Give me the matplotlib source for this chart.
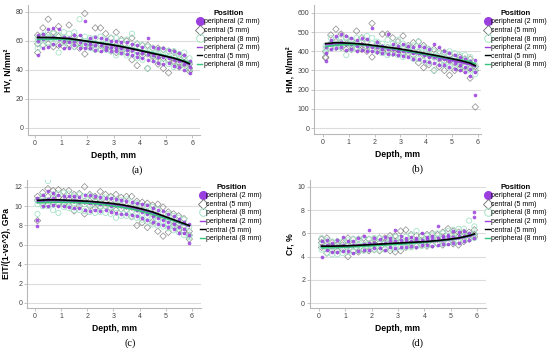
import numpy as np
import matplotlib.pyplot as plt
from matplotlib.lines import Line2D

plt.rcParams['font.family'] = ['Liberation Sans', 'DejaVu Sans']

# =====================================================
# DATA
# =====================================================

depth = [0.1, 0.3, 0.5, 0.7, 0.9, 1.1, 1.3, 1.5, 1.7, 1.9,
         2.1, 2.3, 2.5, 2.7, 2.9, 3.1, 3.3, 3.5, 3.7, 3.9,
         4.1, 4.3, 4.5, 4.7, 4.9, 5.1, 5.3, 5.5, 5.7, 5.9]

fit_depth = [0.1, 0.5, 0.9, 1.3, 1.7, 2.1, 2.5, 2.9, 3.3, 3.7, 4.1, 4.5, 4.9, 5.3, 5.7, 5.9]

positions = ["peripheral (2 mm)", "central (5 mm)", "peripheral (8 mm)"]

# ---- (a) HV ----
hv_p2_hi = [64, 65, 68, 69, 68, 63, 62, 64, 64, 74, 62, 63, 62, 61, 60, 60, 59, 59, 58, 57, 56, 62, 56, 55, 55, 54, 53, 52, 50, 46]
hv_p2_mid = [60, 61, 62, 63, 61, 60, 59, 60, 59, 58, 58, 57, 57, 56, 56, 55, 55, 54, 54, 52, 52, 51, 50, 49, 49, 48, 47, 46, 44, 42]
hv_p2_lo = [50, 55, 56, 58, 57, 55, 55, 57, 55, 55, 55, 54, 53, 54, 53, 53, 52, 51, 50, 49, 48, 47, 46, 45, 44, 45, 43, 42, 40, 38]
hv_c5_hi = [64, 69, 75, 66, 70, 62, 71, 63, 62, 79, 60, 69, 69, 65, 62, 66, 61, 60, 62, 58, 57, 57, 55, 55, 54, 53, 52, 50, 49, 44]
hv_c5_mid = [58, 63, 64, 62, 63, 60, 61, 60, 59, 57, 58, 58, 57, 56, 56, 57, 56, 55, 54, 53, 52, 51, 50, 49, 48, 47, 46, 45, 44, 41]
hv_c5_lo = [52, 57, 58, 56, 57, 56, 58, 56, 55, 51, 56, 54, 54, 55, 53, 52, 54, 52, 47, 43, 50, 41, 49, 44, 41, 38, 45, 42, 45, 39]
hv_p8_hi = [62, 64, 66, 65, 64, 66, 65, 66, 75, 63, 62, 62, 63, 61, 62, 62, 60, 61, 65, 58, 57, 56, 55, 54, 54, 53, 53, 51, 52, 48]
hv_p8_mid = [60, 61, 62, 62, 61, 62, 60, 61, 62, 60, 59, 58, 58, 58, 57, 56, 55, 55, 56, 53, 52, 52, 51, 51, 50, 49, 49, 48, 47, 45]
hv_p8_lo = [55, 57, 59, 58, 52, 59, 57, 56, 58, 57, 55, 54, 54, 54, 53, 50, 52, 50, 51, 48, 47, 41, 47, 46, 45, 44, 42, 44, 43, 40]
hv_fit_p2 = [61.5, 61.6, 61.5, 61.2, 60.4, 59.4, 58.4, 57.2, 55.9, 54.5, 53.0, 51.4, 49.8, 48.0, 45.5, 43.5]
hv_fit_c5 = [62.5, 62.4, 62.1, 61.6, 60.6, 59.5, 58.5, 57.4, 56.1, 54.6, 53.0, 51.4, 49.8, 48.1, 45.8, 44.2]
hv_fit_p8 = [61.0, 61.2, 61.2, 61.0, 60.4, 59.6, 58.7, 57.6, 56.3, 54.8, 53.3, 51.8, 50.2, 48.4, 46.2, 45.0]

# ---- (b) HM ----
hm_p2_hi = [420, 460, 480, 490, 480, 470, 460, 470, 465, 520, 450, 430, 490, 440, 430, 440, 430, 420, 425, 420, 410, 440, 420, 400, 390, 380, 370, 360, 350, 355]
hm_p2_mid = [390, 440, 440, 450, 440, 440, 430, 440, 430, 420, 420, 410, 410, 410, 400, 400, 400, 390, 390, 380, 370, 370, 360, 360, 350, 340, 330, 320, 310, 290]
hm_p2_lo = [350, 410, 415, 420, 405, 410, 400, 405, 400, 400, 395, 390, 385, 385, 380, 375, 370, 360, 360, 350, 345, 340, 330, 330, 320, 310, 300, 290, 270, 170]
hm_c5_hi = [400, 485, 515, 490, 470, 455, 505, 470, 450, 545, 440, 490, 490, 470, 450, 480, 430, 445, 450, 430, 410, 410, 400, 395, 380, 370, 370, 360, 360, 320]
hm_c5_mid = [370, 440, 450, 445, 440, 430, 440, 430, 420, 410, 420, 420, 420, 410, 410, 420, 410, 400, 395, 380, 380, 370, 360, 350, 350, 340, 330, 320, 310, 300]
hm_c5_lo = [365, 420, 420, 420, 410, 410, 415, 410, 400, 370, 400, 400, 400, 390, 390, 390, 390, 380, 340, 315, 330, 300, 320, 300, 275, 300, 310, 300, 260, 110]
hm_p8_hi = [430, 470, 460, 470, 470, 460, 470, 470, 480, 470, 450, 440, 460, 440, 460, 440, 420, 430, 450, 420, 410, 400, 390, 390, 400, 390, 380, 380, 370, 330]
hm_p8_mid = [415, 440, 440, 440, 445, 440, 440, 445, 440, 440, 430, 420, 420, 420, 420, 410, 400, 400, 400, 390, 380, 370, 370, 370, 360, 360, 350, 350, 340, 310]
hm_p8_lo = [395, 420, 420, 420, 380, 410, 420, 420, 420, 410, 400, 390, 380, 390, 380, 370, 380, 360, 360, 350, 340, 300, 340, 330, 320, 330, 320, 320, 300, 280]
hm_fit_p2 = [435, 440, 440, 437, 432, 425, 417, 408, 398, 388, 377, 366, 355, 343, 330, 320]
hm_fit_c5 = [440, 445, 443, 440, 435, 428, 421, 414, 405, 395, 385, 375, 364, 352, 338, 325]
hm_fit_p8 = [425, 432, 435, 435, 432, 425, 418, 410, 400, 390, 380, 370, 362, 355, 345, 335]

# ---- (c) EIT/(1-vs^2) ----
eit_p2_hi = [10.8, 11.2, 11.6, 11.4, 11.2, 11.0, 11.0, 11.0, 10.9, 11.2, 11.1, 11.0, 10.9, 10.8, 10.8, 10.7, 10.6, 10.5, 10.4, 10.3, 10.2, 10.1, 9.8, 9.6, 9.5, 9.2, 9.0, 8.7, 8.4, 8.2]
eit_p2_mid = [8.6, 10.6, 10.7, 10.8, 10.6, 10.6, 10.5, 10.6, 10.4, 10.4, 10.3, 10.3, 10.2, 10.2, 10.0, 10.1, 10.0, 9.9, 9.8, 9.6, 9.4, 9.2, 9.0, 8.8, 8.6, 8.4, 8.2, 7.8, 7.6, 7.0]
eit_p2_lo = [7.9, 10.0, 10.0, 10.1, 10.0, 10.0, 9.9, 9.8, 9.8, 9.6, 9.5, 9.6, 9.5, 9.6, 9.4, 9.3, 9.2, 9.2, 9.1, 9.0, 8.8, 8.6, 8.4, 8.2, 8.1, 7.8, 7.6, 7.2, 7.2, 6.2]
eit_c5_hi = [11.0, 11.4, 11.8, 11.6, 11.7, 11.5, 11.6, 11.2, 11.3, 12.0, 11.2, 11.0, 11.5, 11.2, 11.0, 11.2, 10.9, 11.0, 11.0, 10.5, 10.4, 10.3, 10.1, 10.2, 9.9, 9.4, 9.2, 9.0, 8.7, 7.4]
eit_c5_mid = [10.6, 10.8, 11.0, 10.9, 10.9, 10.8, 10.7, 10.6, 10.5, 10.5, 10.5, 10.5, 10.4, 10.4, 10.3, 10.2, 10.1, 10.0, 9.9, 9.7, 9.6, 9.4, 9.2, 9.0, 8.8, 8.6, 8.4, 8.2, 8.0, 7.0]
eit_c5_lo = [8.5, 10.3, 10.2, 10.4, 10.2, 10.2, 10.1, 9.5, 10.0, 9.2, 10.0, 9.8, 9.9, 10.0, 9.8, 9.6, 9.7, 9.6, 8.9, 8.0, 8.3, 7.8, 8.4, 7.4, 6.9, 7.3, 8.0, 7.6, 7.4, 6.6]
eit_p8_hi = [10.6, 11.0, 12.6, 11.2, 11.3, 11.4, 11.3, 11.0, 11.2, 11.0, 11.1, 10.9, 10.8, 10.9, 10.9, 10.6, 10.6, 10.7, 10.4, 10.3, 10.0, 10.0, 9.9, 9.6, 9.2, 9.2, 9.0, 8.8, 8.6, 7.8]
eit_p8_mid = [10.2, 10.5, 10.6, 10.4, 10.4, 10.5, 10.4, 10.3, 10.3, 10.2, 10.1, 10.1, 10.0, 10.0, 9.9, 9.8, 9.7, 9.6, 9.5, 9.4, 9.2, 9.0, 8.8, 8.6, 8.4, 8.2, 8.1, 7.9, 7.8, 7.0]
eit_p8_lo = [9.2, 10.0, 10.0, 9.6, 9.3, 9.9, 9.8, 9.6, 9.6, 9.5, 9.4, 9.3, 9.4, 9.3, 9.2, 8.8, 9.0, 9.0, 8.9, 8.8, 8.6, 8.4, 8.1, 8.0, 7.9, 7.7, 7.5, 7.3, 7.0, 6.8]
eit_fit_p2 = [10.5, 10.55, 10.55, 10.5, 10.45, 10.4, 10.3, 10.2, 10.05, 9.85, 9.6, 9.3, 8.9, 8.5, 8.1, 7.9]
eit_fit_c5 = [10.6, 10.65, 10.65, 10.6, 10.55, 10.5, 10.4, 10.3, 10.15, 9.95, 9.7, 9.4, 9.0, 8.6, 8.2, 8.0]
eit_fit_p8 = [10.35, 10.4, 10.4, 10.4, 10.35, 10.3, 10.2, 10.05, 9.9, 9.7, 9.45, 9.15, 8.8, 8.5, 8.15, 8.0]

# ---- (d) Cr ----
cr_p2_hi = [5.3, 5.4, 5.2, 5.4, 5.7, 5.3, 5.3, 5.6, 5.8, 6.3, 5.6, 5.5, 5.7, 5.6, 6.3, 5.8, 5.6, 5.7, 5.6, 6.0, 5.7, 5.8, 6.6, 5.8, 5.9, 6.2, 6.1, 6.2, 6.0, 7.8]
cr_p2_mid = [4.9, 5.0, 4.9, 4.9, 5.0, 4.9, 5.0, 5.0, 5.1, 5.2, 5.2, 5.1, 5.2, 5.3, 5.3, 5.4, 5.3, 5.3, 5.4, 5.4, 5.5, 5.5, 5.6, 5.6, 5.7, 5.7, 5.8, 5.8, 5.9, 7.4]
cr_p2_lo = [4.0, 4.6, 4.4, 4.4, 4.5, 4.5, 4.3, 4.5, 4.6, 4.6, 4.7, 4.7, 4.6, 4.8, 4.7, 4.8, 4.8, 4.9, 4.8, 5.0, 5.0, 4.9, 5.0, 5.1, 5.1, 5.2, 5.2, 5.3, 5.4, 5.6]
cr_c5_hi = [5.5, 5.6, 5.2, 5.3, 5.2, 5.6, 5.5, 5.5, 5.6, 5.5, 5.5, 5.6, 5.6, 5.8, 5.8, 6.2, 6.3, 5.9, 5.8, 5.8, 5.9, 6.0, 5.9, 6.1, 6.4, 6.2, 6.1, 6.1, 6.1, 6.3]
cr_c5_mid = [5.2, 5.0, 4.9, 5.0, 5.0, 5.0, 5.1, 5.0, 5.0, 5.1, 5.1, 5.2, 5.2, 5.2, 5.3, 5.3, 5.3, 5.4, 5.4, 5.4, 5.4, 5.5, 5.5, 5.6, 5.6, 5.6, 5.7, 5.8, 5.8, 5.9]
cr_c5_lo = [4.8, 4.3, 4.6, 4.5, 4.6, 4.0, 4.5, 4.4, 4.6, 4.5, 4.6, 4.5, 4.7, 4.5, 4.4, 4.5, 4.8, 4.9, 4.9, 5.0, 4.9, 5.0, 5.1, 5.0, 5.2, 5.1, 5.0, 5.3, 5.5, 5.7]
cr_p8_hi = [5.6, 5.4, 5.3, 5.3, 5.3, 5.4, 5.5, 5.5, 5.4, 5.5, 5.6, 5.6, 5.5, 5.6, 5.7, 5.6, 5.7, 5.9, 6.2, 5.7, 5.8, 5.9, 6.0, 6.0, 6.2, 6.3, 6.4, 6.4, 7.1, 6.6]
cr_p8_mid = [5.0, 4.8, 4.8, 4.8, 4.8, 4.9, 4.9, 5.0, 5.0, 5.0, 5.0, 5.1, 5.1, 5.2, 5.2, 5.2, 5.3, 5.3, 5.4, 5.4, 5.4, 5.5, 5.5, 5.6, 5.6, 5.7, 5.8, 5.8, 5.9, 6.0]
cr_p8_lo = [4.6, 4.3, 4.2, 4.2, 4.3, 4.4, 4.4, 4.5, 4.5, 4.6, 4.6, 4.6, 4.6, 4.7, 4.7, 4.8, 4.8, 4.8, 4.9, 4.9, 5.0, 5.0, 5.1, 5.1, 5.2, 5.2, 5.3, 5.4, 5.5, 5.6]
cr_fit_p2 = [4.85, 4.85, 4.88, 4.9, 4.95, 5.0, 5.05, 5.1, 5.15, 5.2, 5.25, 5.32, 5.42, 5.55, 5.75, 5.9]
cr_fit_c5 = [4.9, 4.9, 4.92, 4.95, 5.0, 5.05, 5.1, 5.15, 5.2, 5.25, 5.3, 5.38, 5.48, 5.6, 5.8, 5.95]
cr_fit_p8 = [4.75, 4.78, 4.8, 4.85, 4.9, 4.95, 5.0, 5.05, 5.1, 5.18, 5.25, 5.35, 5.45, 5.6, 5.8, 5.95]

# =====================================================
# STYLE
# =====================================================

PURPLE = '#9a3ee0'
GREY = '#6e6e6e'
MINT = '#a6e3c8'
GREEN = '#35c47a'
GRID = '#dcdcdc'
AXIS = '#b8b8b8'


def draw_panel(ax, p2, c5, p8, fits, ylim, yticks, ylabel, letter, label_x, legend_xy):

    for y in yticks:
        ax.axhline(y, color=GRID, lw=0.8, zorder=0)

    for vals in c5:
        ax.scatter(depth, vals, s=11, marker='D', facecolors='none',
                   edgecolors=GREY, linewidths=0.5, alpha=0.8, zorder=2)
    for vals in p8:
        ax.scatter(depth, vals, s=14, marker='o', facecolors='none',
                   edgecolors=MINT, linewidths=0.6, zorder=2)
    for vals in p2:
        ax.scatter(depth, vals, s=7, marker='o', color=PURPLE,
                   alpha=0.85, linewidths=0, zorder=3)

    ax.plot(fit_depth, fits[0], color=PURPLE, lw=1.2, zorder=4)
    ax.plot(fit_depth, fits[2], color=GREEN, lw=1.2, zorder=5)
    ax.plot(fit_depth, fits[1], color='black', lw=1.2, zorder=6)

    ax.set_ylim(*ylim)
    ax.set_yticks(yticks)
    ax.set_xticks([0, 1, 2, 3, 4, 5, 6])

    for s in ['top', 'right']:
        ax.spines[s].set_visible(False)
    for s in ['left', 'bottom']:
        ax.spines[s].set_color(AXIS)
        ax.spines[s].set_linewidth(0.8)
    ax.tick_params(labelsize=5, colors='#444444', length=2, width=0.6,
                   pad=1.5, color=AXIS)

    ax.set_xlabel("Depth, mm", fontsize=6.2, fontweight='bold', labelpad=3)
    ax.set_ylabel(ylabel, fontsize=6.2, fontweight='bold', labelpad=2)

    fig.text(label_x, ax.get_position().y0 - 0.1, letter, ha='center',
             va='center', fontsize=7.5, family='Liberation Serif')

    handles = [
        Line2D([], [], ls='', marker='o', markersize=5.5, color=PURPLE),
        Line2D([], [], ls='', marker='D', markersize=5, mfc='none',
               mec=GREY, mew=0.6),
        Line2D([], [], ls='', marker='o', markersize=5.5, mfc='none',
               mec=MINT, mew=0.7),
        Line2D([], [], color=PURPLE, lw=1),
        Line2D([], [], color='black', lw=1),
        Line2D([], [], color=GREEN, lw=1),
    ]
    leg = ax.legend(handles, positions + positions, title="Position",
                    loc='upper left', bbox_to_anchor=legend_xy,
                    bbox_transform=fig.transFigure, frameon=False,
                    fontsize=5, handlelength=0.7, handletextpad=0.2,
                    labelspacing=0.22, borderpad=0, borderaxespad=0)
    leg.get_title().set_fontsize(5.5)
    leg.get_title().set_fontweight('bold')
    leg._legend_box.align = 'center'


# =====================================================
# PLOT
# =====================================================

fig = plt.figure(figsize=(5.5, 3.55), dpi=100)

ax_a = fig.add_axes([0.0509, 0.6197, 0.3127, 0.3669])
ax_b = fig.add_axes([0.5709, 0.6225, 0.3036, 0.3634])
ax_c = fig.add_axes([0.0491, 0.1324, 0.3164, 0.3606])
ax_d = fig.add_axes([0.5636, 0.1324, 0.3200, 0.3606])

draw_panel(ax_a, [hv_p2_hi, hv_p2_mid, hv_p2_lo],
           [hv_c5_hi, hv_c5_mid, hv_c5_lo],
           [hv_p8_hi, hv_p8_mid, hv_p8_lo],
           [hv_fit_p2, hv_fit_c5, hv_fit_p8],
           (-5, 85), [0, 20, 40, 60, 80], "HV, N/mm²", "(a)", 0.249,
           (0.359, 0.972))
ax_a.set_xlim(-0.27, 6.3)

draw_panel(ax_b, [hm_p2_hi, hm_p2_mid, hm_p2_lo],
           [hm_c5_hi, hm_c5_mid, hm_c5_lo],
           [hm_p8_hi, hm_p8_mid, hm_p8_lo],
           [hm_fit_p2, hm_fit_c5, hm_fit_p8],
           (-31, 641), [0, 100, 200, 300, 400, 500, 600], "HM, N/mm²", "(b)",
           0.76, (0.882, 0.972))
ax_b.set_xlim(-0.35, 6.12)

draw_panel(ax_c, [eit_p2_hi, eit_p2_mid, eit_p2_lo],
           [eit_c5_hi, eit_c5_mid, eit_c5_lo],
           [eit_p8_hi, eit_p8_mid, eit_p8_lo],
           [eit_fit_p2, eit_fit_c5, eit_fit_p8],
           (-0.52, 12.7), [0, 2, 4, 6, 8, 10, 12], "EIT/(1-vs^2), GPa", "(c)",
           0.237, (0.364, 0.482))
ax_c.set_xlim(-0.3, 6.35)

draw_panel(ax_d, [cr_p2_hi, cr_p2_mid, cr_p2_lo],
           [cr_c5_hi, cr_c5_mid, cr_c5_lo],
           [cr_p8_hi, cr_p8_mid, cr_p8_lo],
           [cr_fit_p2, cr_fit_c5, cr_fit_p8],
           (-0.43, 10.6), [0, 2, 4, 6, 8, 10], "Cr, %", "(d)",
           0.76, (0.882, 0.482))
ax_d.set_xlim(-0.34, 6.34)

fig.savefig("out.png", dpi=100)
